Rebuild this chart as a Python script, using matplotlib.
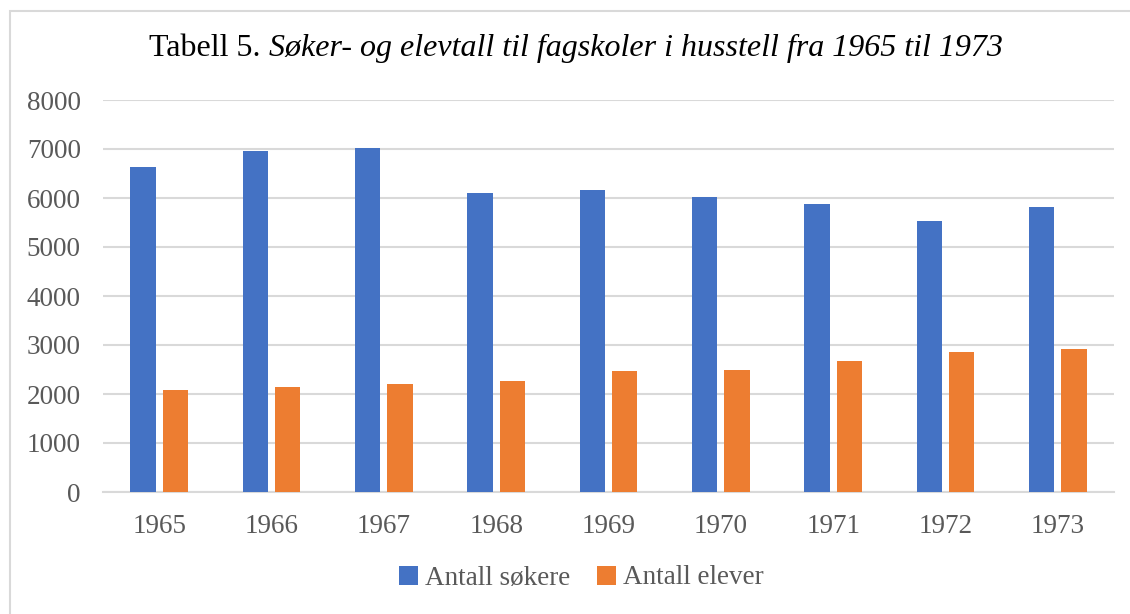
import numpy as np
import matplotlib.pyplot as plt
from matplotlib.patches import Rectangle

# Data
years = ['1965', '1966', '1967', '1968', '1969', '1970', '1971', '1972', '1973']
sokere = [6630, 6960, 7030, 6110, 6170, 6020, 5870, 5530, 5810]
elever = [2080, 2140, 2200, 2260, 2470, 2500, 2680, 2850, 2910]
yticks = [0, 1000, 2000, 3000, 4000, 5000, 6000, 7000, 8000]

blue = '#4472C4'
orange = '#ED7D31'
grid_col = '#D9D9D9'
text_col = '#595959'

plt.rcParams['font.family'] = ['Liberation Serif', 'DejaVu Serif']

W, H = 1130, 614
fig = plt.figure(figsize=(W / 100, H / 100), dpi=100)

# chart area border (right/bottom edges run off the picture)
fig.patches.append(Rectangle((10 / W, -0.1), 1.2, 1 - 11 / H + 0.1,
                             transform=fig.transFigure, fill=False,
                             edgecolor=grid_col, linewidth=1.5))

ax = fig.add_axes([103 / W, 1 - 492 / H, (1114 - 103) / W, (492 - 100) / H])

x = np.arange(len(years))
bw = 0.227
off = 0.1435
ax.bar(x - off, sokere, bw, color=blue, label='Antall søkere', zorder=3)
ax.bar(x + off, elever, bw, color=orange, label='Antall elever', zorder=3)

ax.set_xlim(-0.5, len(years) - 0.5)
ax.set_ylim(0, 8000)
ax.set_yticks(yticks)
ax.set_xticks(x)
ax.set_xticklabels(years)
ax.yaxis.grid(True, color=grid_col, linewidth=1.5, zorder=0)
ax.set_axisbelow(True)
for s in ['top', 'right', 'left']:
    ax.spines[s].set_visible(False)
ax.spines['bottom'].set_color(grid_col)
ax.spines['bottom'].set_linewidth(1.5)
ax.tick_params(axis='both', length=0, labelsize=19.5, labelcolor=text_col)
ax.tick_params(axis='y', pad=16)
ax.tick_params(axis='x', pad=16)

# title: regular "Tabell 5." followed by italic text
t1 = fig.text(0, 0, 'Tabell 5. ', fontsize=23, color='black', va='center')
t2 = fig.text(0, 0, 'Søker- og elevtall til fagskoler i husstell fra 1965 til 1973',
              fontsize=23, style='italic', color='black', va='center')
fig.canvas.draw()
r = fig.canvas.get_renderer()
w1 = t1.get_window_extent(r).width
w2 = t2.get_window_extent(r).width
x0 = 576 - (w1 + w2) / 2
t1.set_position((x0 / W, 1 - 48 / H))
t2.set_position(((x0 + w1) / W, 1 - 48 / H))

ax.legend(loc='center', bbox_to_anchor=(581 / W, 1 - 578 / H),
          bbox_transform=fig.transFigure, ncol=2, frameon=False,
          fontsize=19.5, labelcolor=text_col, handlelength=0.7,
          handleheight=0.7, handletextpad=0.25, columnspacing=1.0)

fig.savefig('out.png', dpi=100)
